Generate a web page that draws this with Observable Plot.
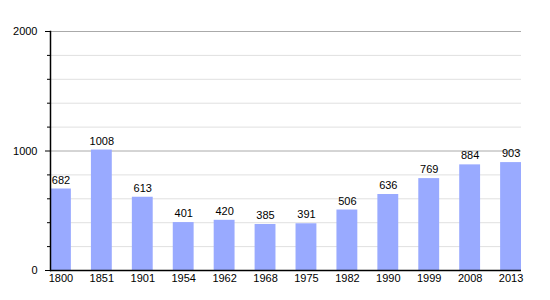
<!DOCTYPE html>
<html>
<head>
<meta charset="utf-8">
<script src="https://cdn.jsdelivr.net/npm/d3@7"></script>
<script src="https://cdn.jsdelivr.net/npm/@observablehq/plot@0.6"></script>
<style>
body { margin: 0; background: #fff; }
</style>
</head>
<body>
<div id="chart"></div>
<script>
const years = ["1800","1851","1901","1954","1962","1968","1975","1982","1990","1999","2008","2013"];
const population = [682,1008,613,401,420,385,391,506,636,769,884,903];
const majorTicks = [0,1000,2000];
const minorTicks = [200,400,600,800,1200,1400,1600,1800];

const data = years.map((y, i) => ({year: y, pop: population[i]}));

const chart = Plot.plot({
  width: 550,
  height: 300,
  marginLeft: 50,
  marginRight: 29,
  marginTop: 31,
  marginBottom: 30,
  style: {fontFamily: "'Liberation Sans', Arial, sans-serif", fontSize: "11px", color: "#000", background: "#fff"},
  x: {domain: years, paddingInner: 0.49, paddingOuter: 0, align: 0, round: false, label: null},
  y: {domain: [0, 2000], label: null},
  marks: [
    Plot.ruleY(minorTicks, {stroke: "#e0e0e0", strokeOpacity: 1}),
    Plot.ruleY([1000, 2000], {stroke: "#aaaaaa", strokeOpacity: 1}),
    Plot.barY(data, {x: "year", y: "pop", fill: "#99aaff"}),
    Plot.text(data, {x: "year", y: "pop", text: d => String(d.pop), dy: -9, fill: "#000", fontSize: 11}),
    Plot.axisY(minorTicks, {tickSize: 3, tickFormat: () => "", stroke: "#000"}),
    Plot.axisY(majorTicks, {tickSize: 5, tickPadding: 8, tickFormat: d => String(d), stroke: "#000"}),
    Plot.axisX({tickSize: 0, tickPadding: 4}),
    Plot.ruleY([0], {stroke: "#000", strokeWidth: 1.5}),
    Plot.frame({anchor: "left", stroke: "#000", strokeWidth: 1.5})
  ]
});
document.getElementById("chart").appendChild(chart);
</script>
</body>
</html>
